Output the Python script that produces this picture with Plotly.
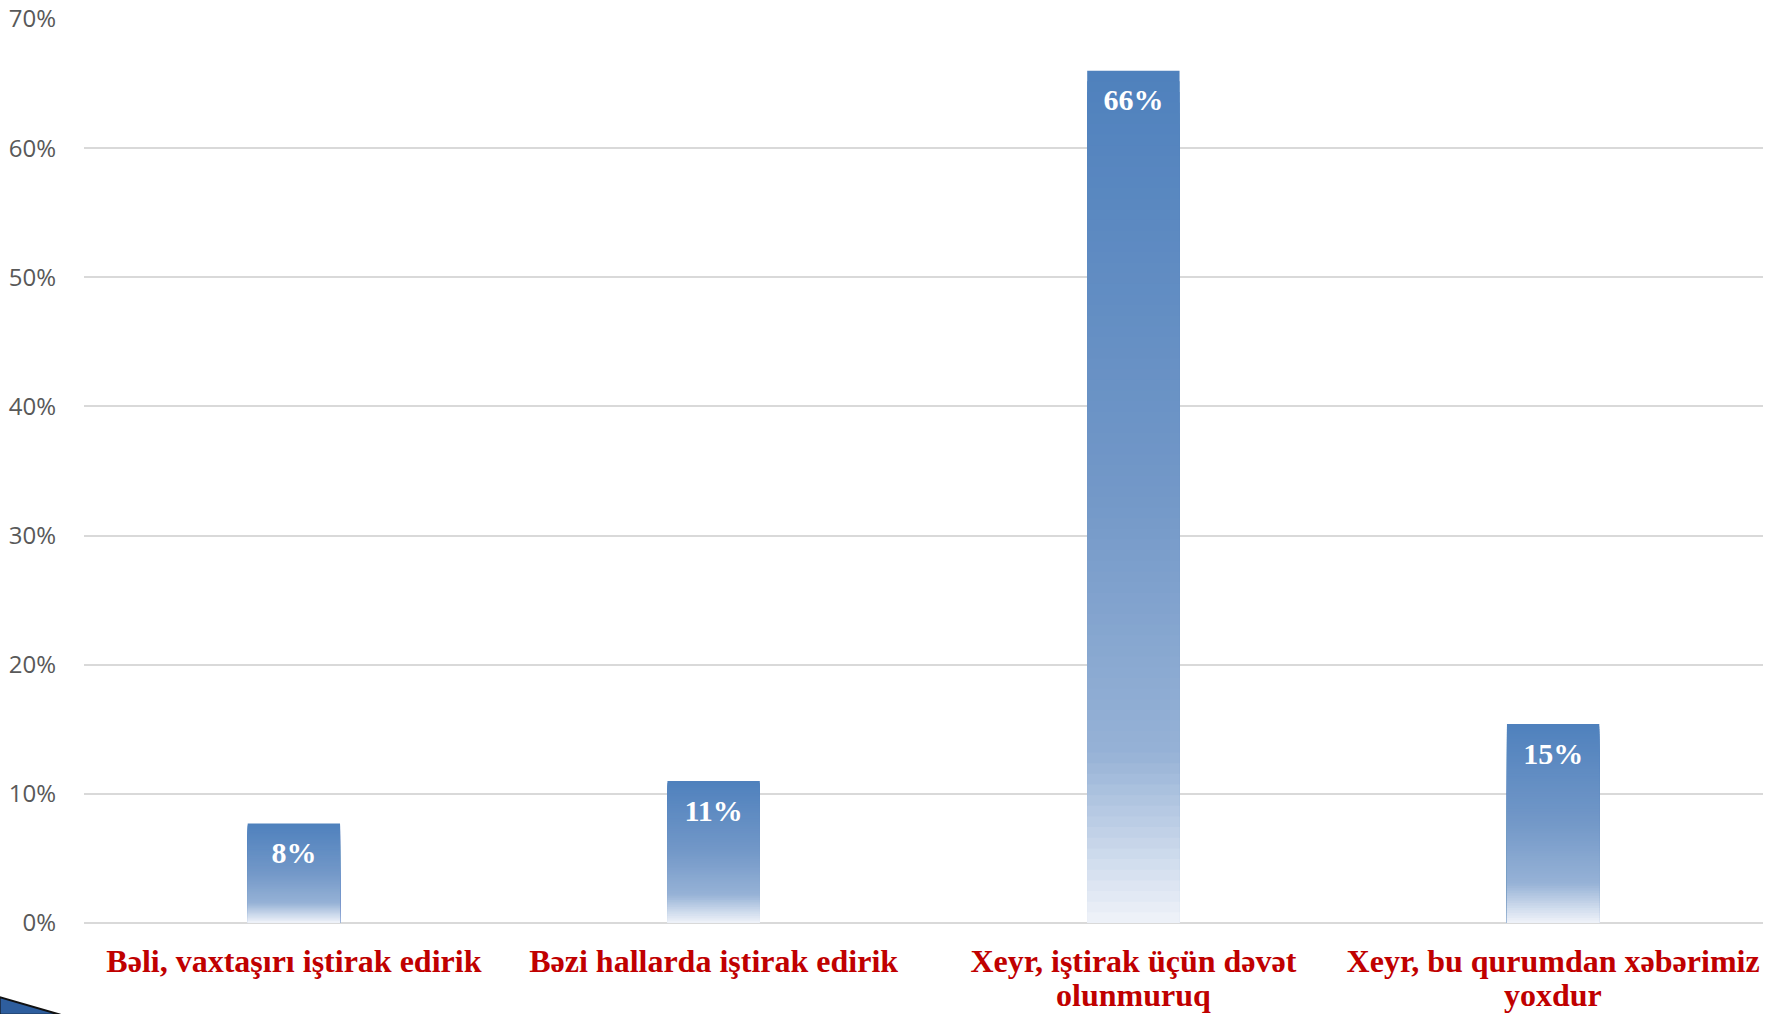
import plotly.graph_objects as go

categories = ["Bəli, vaxtaşırı iştirak edirik", "Bəzi hallarda iştirak edirik",
              "Xeyr, iştirak üçün dəvət\nolunmuruq", "Xeyr, bu qurumdan xəbərimiz\nyoxdur"]
values = [0.077, 0.11, 0.66, 0.154]
labels = ["8%", "11%", "66%", "15%"]
y_ticks = [0, 0.1, 0.2, 0.3, 0.4, 0.5, 0.6, 0.7]
y_ticktext = ["0%", "10%", "20%", "30%", "40%", "50%", "60%", "70%"]

# gradient stops (fraction of bar height from bottom -> rgb)
stops = [(0.0, (240, 243, 249)), (0.08, (205, 218, 236)), (0.2, (150, 178, 214)),
         (0.5, (115, 152, 200)), (1.0, (79, 129, 189))]

def grad(t):
    for (t0, c0), (t1, c1) in zip(stops[:-1], stops[1:]):
        if t <= t1:
            f = (t - t0) / (t1 - t0)
            return "rgb(%d,%d,%d)" % tuple(round(a + (b - a) * f) for a, b in zip(c0, c1))
    return "rgb(%d,%d,%d)" % stops[-1][1]

first_lines = [c.split("\n")[0] for c in categories]
second_lines = [c.split("\n")[1] if "\n" in c else "" for c in categories]

N = 80
fig = go.Figure()
# draw from tallest to shortest so each region is covered without seams
for i in reversed(range(N)):
    fig.add_trace(go.Bar(
        x=categories, y=[v * (i + 1) / N for v in values], base=[0] * len(values),
        marker=dict(color=grad((i + 0.5) / N), line=dict(width=0)),
        width=0.22, hoverinfo="skip", showlegend=False))

fig.add_trace(go.Scatter(
    x=categories, y=values, mode="markers+text", text=labels,
    textposition="bottom center",
    marker=dict(size=26, color="rgba(0,0,0,0)"),
    textfont=dict(family="Liberation Serif", size=30, color="white", weight="bold"),
    hoverinfo="skip", showlegend=False))

annotations = []
for c, s in zip(categories, second_lines):
    if s:
        annotations.append(dict(x=c, y=0, xref="x", yref="y", text=s, showarrow=False,
                                yanchor="middle", yshift=-72,
                                font=dict(family="Liberation Serif", size=32, color="#C00000",
                                          weight="bold")))

fig.update_layout(
    width=1775, height=1014, autosize=False,
    barmode="overlay",
    plot_bgcolor="white", paper_bgcolor="white",
    margin=dict(l=84, r=12, t=19, b=91),
    showlegend=False,
    xaxis=dict(showgrid=False, showline=False, ticks="", ticklabelstandoff=16,
               automargin=False, tickvals=categories, ticktext=first_lines,
               tickfont=dict(family="Liberation Serif", size=32, color="#C00000", weight="bold")),
    yaxis=dict(range=[0, 0.7], tickvals=y_ticks, ticktext=y_ticktext, automargin=False,
               gridcolor="#d9d9d9", gridwidth=1.5, zeroline=True, zerolinecolor="#d9d9d9",
               zerolinewidth=2, showline=False, ticks="", ticklabelstandoff=27,
               tickfont=dict(family="Open Sans", size=24, color="#595959")),
    annotations=annotations,
    shapes=[dict(type="path", xref="paper", yref="paper",
                 path="M -0.0503 -0.082 L -0.014 -0.1015 L -0.0503 -0.1015 Z",
                 fillcolor="#2E5E9E", line=dict(color="#111111", width=2))],
)

fig.write_html("out.html", config={"displayModeBar": False},
               post_script="document.body.style.margin='0px';document.body.style.overflow='hidden';")
